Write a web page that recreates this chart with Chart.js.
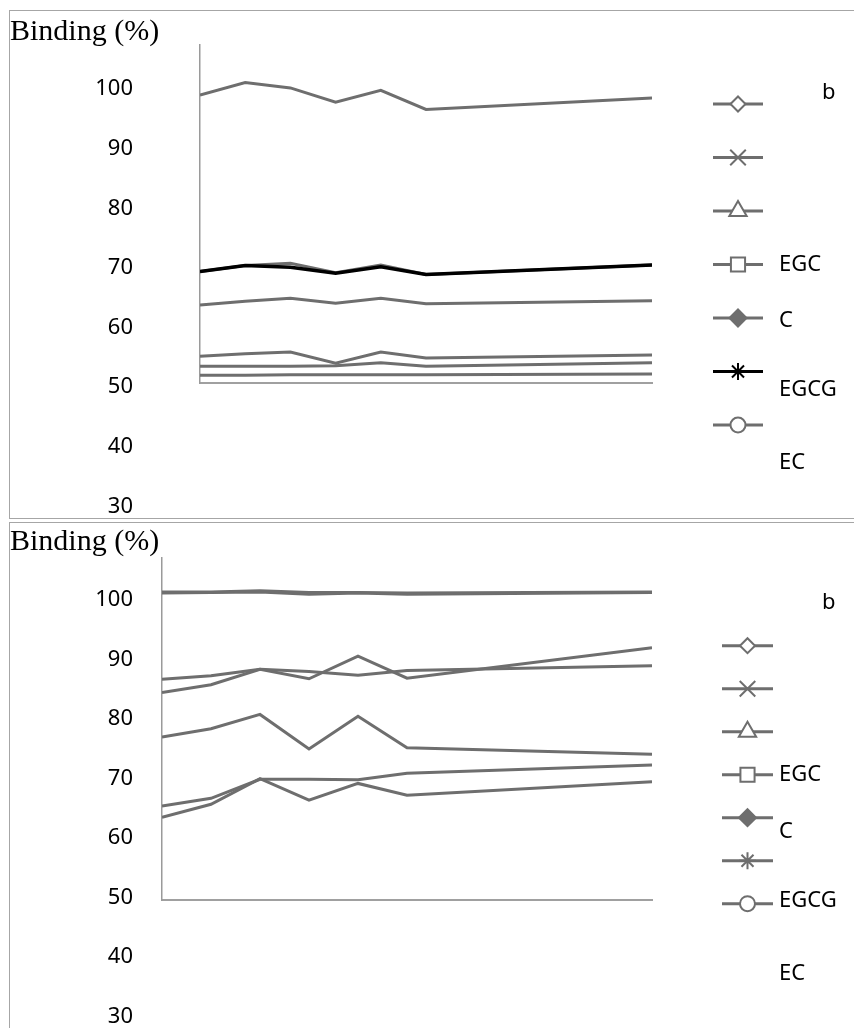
<!DOCTYPE html>
<html>
<head>
<meta charset="utf-8">
<script src="https://cdn.jsdelivr.net/npm/chart.js@4.4.1/dist/chart.umd.min.js"></script>
<style>
  html, body { margin: 0; background: #fff; overflow: hidden; }
  .panel { position: absolute; left: 9px; border: 1px solid #a6a6a6; border-right: none; }
  #panelA { top: 10px; }
  #panelB { top: 522px; border-bottom: none; }
  canvas { display: block; }
</style>
</head>
<body>
<div class="panel" id="panelA"><canvas id="chartA" width="844" height="507"></canvas></div>
<div class="panel" id="panelB"><canvas id="chartB" width="844" height="505"></canvas></div>
<script>
// sampling times and series names
const times = [0, 1, 2, 3, 4, 5, 10];
const names = ['', '', '', 'EGC', 'C', 'EGCG', 'EC'];
const yTicks = [30, 40, 50, 60, 70, 80, 90, 100];

// panel a – binding (%)
const a1 = [99.0, 101.1, 100.2, 97.8, 99.8, 96.6, 98.5];
const a2 = [63.8, 64.4, 64.9, 64.1, 64.9, 64.0, 64.5];
const a3 = [55.2, 55.6, 55.9, 54.0, 55.9, 54.9, 55.4];
const a4 = [53.5, 53.5, 53.5, 53.6, 54.1, 53.5, 54.1];
const a5 = [52.0, 52.0, 52.1, 52.1, 52.1, 52.1, 52.2];
const a6 = [69.4, 70.4, 70.1, 69.1, 70.2, 68.9, 70.5];
const a7 = [69.4, 70.4, 70.8, 69.2, 70.5, 68.9, 70.5];

// panel b – binding (%)
const b1 = [101.4, 101.4, 101.6, 101.3, 101.3, 101.2, 101.4];
const b2 = [101.2, 101.3, 101.4, 101.0, 101.2, 101.0, 101.3];
const b3 = [86.7, 87.3, 88.4, 88.0, 87.4, 88.2, 89.0];
const b4 = [84.5, 85.8, 88.4, 86.8, 90.6, 86.9, 92.0];
const b5 = [77.0, 78.4, 80.8, 75.0, 80.5, 75.2, 74.1];
const b6 = [65.4, 66.7, 69.9, 69.9, 69.8, 70.9, 72.3];
const b7 = [63.5, 65.7, 70.0, 66.4, 69.2, 67.2, 69.5];

// marker look for each series
const GREY = '#6e6e6e';
const markers = ['rectRot', 'crossRot', 'triangle', 'rect', 'rectRot', 'star', 'circle'];
const filled = [false, false, false, false, true, false, false];
const markerSize = [7.5, 11, 10, 10, 8.5, 8.5, 7.5];

function series(values, i, color, width) {
  return {
    label: names[i],
    data: times.map((t, k) => ({ x: t, y: values[k] })),
    borderColor: color,
    backgroundColor: filled[i] ? color : '#fff',
    borderWidth: width || 3,
    pointStyle: markers[i],
    pointRadius: 0,
    pointHoverRadius: 0,
    tension: 0
  };
}

// key on the right: line sample with marker, labels dropped below some rows
const sideKey = {
  id: 'sideKey',
  afterDraw(chart, args, o) {
    const ctx = chart.ctx;
    const drawPoint = Chart.helpers && Chart.helpers.drawPoint;
    ctx.save();
    chart.data.datasets.forEach((ds, i) => {
      const y = o.top + i * o.step;
      ctx.strokeStyle = ds.borderColor;
      ctx.lineWidth = 3;
      ctx.beginPath();
      ctx.moveTo(o.x - o.half, y);
      ctx.lineTo(o.x + o.half, y);
      ctx.stroke();
      ctx.fillStyle = filled[i] ? ds.borderColor : '#fff';
      ctx.lineWidth = 2;
      if (drawPoint) {
        drawPoint(ctx, { pointStyle: markers[i], radius: markerSize[i], borderWidth: 2, rotation: 0 }, o.x, y);
      }
      if (ds.label) {
        ctx.fillStyle = '#000';
        ctx.font = '22px "Noto Sans"';
        ctx.textBaseline = 'middle';
        ctx.textAlign = 'left';
        ctx.fillText(ds.label, o.textX, y + o.drop[i]);
      }
    });
    ctx.fillStyle = '#000';
    ctx.font = '22px "Noto Sans"';
    ctx.textBaseline = 'middle';
    ctx.fillText(o.tag, o.tagX, o.tagY);
    ctx.restore();
  }
};

function makeChart(id, datasets, cfg) {
  return new Chart(document.getElementById(id), {
    type: 'line',
    data: { datasets: datasets },
    plugins: [sideKey],
    options: {
      responsive: false,
      animation: false,
      devicePixelRatio: 1,
      layout: { padding: { left: 0, top: 0, right: 202, bottom: cfg.bottom } },
      plugins: {
        legend: { display: false },
        tooltip: { enabled: false },
        title: {
          display: true,
          text: 'Binding (%)',
          align: 'start',
          color: '#000',
          font: { family: 'Liberation Serif', size: 30, weight: 'normal', lineHeight: 1 },
          padding: cfg.titlePad
        },
        sideKey: cfg.key
      },
      scales: {
        x: {
          type: 'linear',
          min: 0,
          max: 10,
          ticks: { display: false },
          grid: { display: false, drawTicks: false },
          border: { color: '#a0a0a0', width: 2 }
        },
        y: {
          min: cfg.min,
          max: cfg.max,
          bounds: 'data',
          afterBuildTicks: s => { s.ticks = yTicks.map(v => ({ value: v })); },
          // fixed axis width; labels may run past the plot, so no extra margin for them
          afterFit: s => {
            s.width = cfg.axisWidth;
            s.paddingTop = 0;
            s.paddingBottom = 0;
          },
          ticks: {
            autoSkip: false,
            padding: cfg.tickPad,
            color: '#000',
            font: { family: 'Noto Sans', size: 22 }
          },
          grid: { display: false, drawTicks: false },
          border: { color: '#9a9a9a', width: 1.5 }
        }
      }
    }
  });
}

makeChart('chartA', [
  series(a1, 0, GREY), series(a2, 1, GREY), series(a3, 2, GREY), series(a4, 3, GREY),
  series(a5, 4, GREY), series(a6, 5, '#000', 3.5), series(a7, 6, GREY)
], {
  min: 50.7, max: 107.4, bottom: 135, axisWidth: 190, tickPad: 67,
  titlePad: { top: 6, bottom: -2 },
  key: { x: 728, top: 93, step: 53.5, half: 25, textX: 769, drop: [0, 0, 0, 0, 3, 18, 38], tag: 'b', tagX: 812, tagY: 82 }
});

makeChart('chartB', [
  series(b1, 0, GREY), series(b2, 1, GREY), series(b3, 2, GREY), series(b4, 3, GREY),
  series(b5, 4, GREY), series(b6, 5, GREY), series(b7, 6, GREY)
], {
  min: 49.6, max: 107.1, bottom: 128, axisWidth: 152, tickPad: 29,
  titlePad: { top: 4, bottom: 1 },
  key: { x: 737.5, top: 122.7, step: 43, half: 25.5, textX: 769, drop: [0, 0, 0, 0, 14, 40, 70], tag: 'b', tagX: 812, tagY: 80 }
});
</script>
</body>
</html>
